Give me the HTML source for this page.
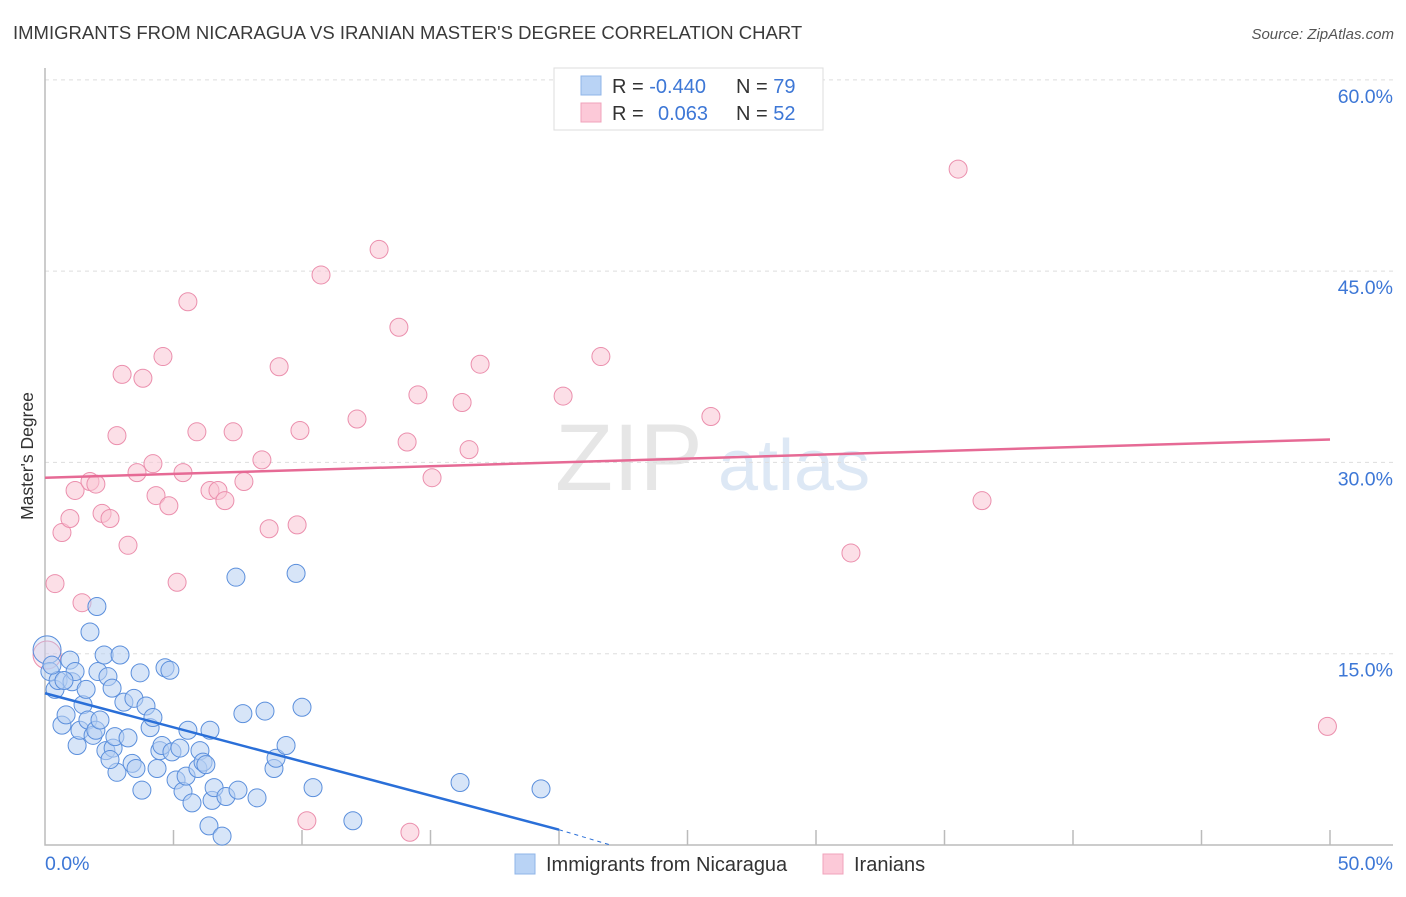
<!DOCTYPE html>
<html><head><meta charset="utf-8"><style>
body{margin:0;background:#fff;font-family:"Liberation Sans",sans-serif}
svg text{font-family:"Liberation Sans",sans-serif}
</style></head><body>
<svg id="chart" width="1406" height="892" xmlns="http://www.w3.org/2000/svg">
<text x="13" y="39" font-size="18.5" fill="#3a3a3a">IMMIGRANTS FROM NICARAGUA VS IRANIAN MASTER'S DEGREE CORRELATION CHART</text>
<text x="1394" y="39" font-size="15" fill="#555" text-anchor="end" font-style="italic">Source: ZipAtlas.com</text>
<text x="555" y="490" font-size="95" fill="#e6e6e6" font-family="Liberation Serif">ZIP</text>
<text x="718" y="490" font-size="72" fill="#dde8f5">atlas</text>
<text transform="translate(33,456) rotate(-90)" font-size="17.5" fill="#333" text-anchor="middle">Master's Degree</text>
<g id="grid"></g><g id="axes"></g><g id="pink"></g><g id="blue"></g><g id="lines"></g>
<g>
<rect x="554" y="68" width="269" height="62" fill="#fff" stroke="#ddd"/>
<rect x="581" y="76" width="20" height="19" fill="#b9d3f5" stroke="#8fb4e8"/>
<rect x="581" y="103" width="20" height="19" fill="#fcc9d8" stroke="#f0a3bb"/>
<text x="612" y="93" font-size="20" fill="#333">R = <tspan fill="#3d77d6">-0.440</tspan><tspan x="736">N = </tspan><tspan fill="#3d77d6">79</tspan></text>
<text x="612" y="120" font-size="20" fill="#333">R = <tspan x="658" fill="#3d77d6">0.063</tspan><tspan x="736">N = </tspan><tspan fill="#3d77d6">52</tspan></text>
</g>
<g>
<rect x="515" y="854" width="20" height="20" fill="#b9d3f5" stroke="#8fb4e8"/>
<text x="546" y="871" font-size="20" fill="#333">Immigrants from Nicaragua</text>
<rect x="823" y="854" width="20" height="20" fill="#fcc9d8" stroke="#f0a3bb"/>
<text x="854" y="871" font-size="20" fill="#333">Iranians</text>
</g>
</svg>
<script>
const blueX=[0.08,0.19,0.39,0.51,0.66,0.82,0.97,1.05,1.17,1.25,1.36,1.48,1.60,1.67,1.75,1.87,1.98,2.02,2.06,2.14,2.30,2.37,2.45,2.61,2.65,2.72,2.80,2.92,3.07,3.23,3.39,3.46,3.54,3.70,3.77,3.93,4.09,4.20,4.36,4.47,4.55,4.67,4.86,4.94,5.10,5.25,5.37,5.49,5.56,5.72,5.95,6.03,6.15,6.26,6.38,6.42,6.50,6.58,6.89,7.04,7.43,7.51,7.70,8.25,8.56,8.91,8.99,9.38,9.77,10.00,10.43,11.98,16.15,19.30,0.27,0.74,2.53];
const blueY=[15.3,13.6,12.2,12.9,9.4,10.2,14.5,12.8,13.6,7.8,9.0,11.0,12.2,9.8,16.7,8.6,9.0,18.7,13.6,9.8,14.9,7.4,13.2,12.3,7.6,8.5,5.7,14.9,11.2,8.4,6.4,11.5,6.0,13.5,4.3,10.9,9.2,10.0,6.0,7.4,7.8,13.9,13.7,7.3,5.1,7.6,4.2,5.4,9.0,3.3,6.0,7.4,6.5,6.3,1.5,9.0,3.5,4.5,0.7,3.8,21.0,4.3,10.3,3.7,10.5,6.0,6.8,7.8,21.3,10.8,4.5,1.9,4.9,4.4,14.1,12.9,6.7];
const pinkX=[0.08,0.39,0.66,0.97,1.17,1.44,1.75,1.98,2.22,2.53,2.80,3.00,3.23,3.58,3.81,4.20,4.32,4.59,4.82,5.14,5.37,5.56,5.91,6.42,6.73,7.00,7.32,7.74,8.44,8.72,9.11,9.81,9.92,10.19,10.74,12.14,13.00,13.77,14.09,14.20,14.51,15.06,16.23,16.50,16.93,20.16,21.63,25.91,31.36,35.53,36.46,49.9];
const pinkY=[14.9,20.5,24.5,25.6,27.8,19.0,28.5,28.3,26.0,25.6,32.1,36.9,23.5,29.2,36.6,29.9,27.4,38.3,26.6,20.6,29.2,42.6,32.4,27.8,27.8,27.0,32.4,28.5,30.2,24.8,37.5,25.1,32.5,1.9,44.7,33.4,46.7,40.6,31.6,1.0,35.3,28.8,34.7,31.0,37.7,35.2,38.3,33.6,22.9,53.0,27.0,9.3];
const blueTrendX=[0,20.0],blueTrendY=[11.9,1.2];
const blueDashX=[20.0,22.0],blueDashY=[1.2,0];
const pinkTrendX=[0,50],pinkTrendY=[28.8,31.8];
const yTicks=[15,30,45,60];
const yTickLabels=["15.0%","30.0%","45.0%","60.0%"];
const xTicks=[5,10,15,20,25,30,35,40,45,50];
const NS="http://www.w3.org/2000/svg";
const sx=v=>45+v*25.7, sy=v=>845-v*12.753;
function mk(t,p,a){const e=document.createElementNS(NS,t);for(const k in a)e.setAttribute(k,a[k]);p.appendChild(e);return e;}
const grid=document.getElementById('grid'),axes=document.getElementById('axes');
yTicks.forEach((t,i)=>{
 const l=mk('line',grid,{x1:45,x2:1393,y1:sy(t),y2:sy(t),stroke:'#ddd','stroke-dasharray':'4,4'});
 
 
 const tx=mk('text',grid,{x:1393,y:sy(t)+23,'font-size':19.5,fill:'#3d77d6','text-anchor':'end'});
 tx.textContent=yTickLabels[i];
 
 
});
const ax=mk('path',axes,{d:'M45,68V845H1393',fill:'none',stroke:'#bbb','stroke-width':1.5});


xTicks.forEach(t=>{
 const l=mk('line',axes,{x1:sx(t),x2:sx(t),y1:845,y2:830,stroke:'#bbb','stroke-width':1.5});
 
 
});
const x0=mk('text',axes,{x:45,y:870,'font-size':19.5,fill:'#3d77d6'});x0.textContent='0.0%';


const x1=mk('text',axes,{x:1393,y:870,'font-size':19.5,fill:'#3d77d6','text-anchor':'end'});x1.textContent='50.0%';


function dots(g,X,Y,fill,stroke,name){X.forEach((x,i)=>{
 const r=i===0?14:9;
 const c=mk('circle',g,{cx:sx(x),cy:sy(Y[i]),r:r,fill:fill,stroke:stroke,'stroke-width':1,'fill-opacity':i===0?0.35:0.55});
 
 
});}
dots(document.getElementById('pink'),pinkX,pinkY,'#f9c4d4','#eb8fad','iranian-point');
dots(document.getElementById('blue'),blueX,blueY,'#b6d0f3','#5b8fdc','nicaragua-point');
const lg=document.getElementById('lines');
const bt=mk('line',lg,{x1:sx(blueTrendX[0]),y1:sy(blueTrendY[0]),x2:sx(blueTrendX[1]),y2:sy(blueTrendY[1]),stroke:'#2a6fd8','stroke-width':2.5});


const bd=mk('line',lg,{x1:sx(blueDashX[0]),y1:sy(blueDashY[0]),x2:sx(blueDashX[1]),y2:sy(blueDashY[1]),stroke:'#2a6fd8','stroke-width':1,'stroke-dasharray':'4,4'});


const pt=mk('line',lg,{x1:sx(pinkTrendX[0]),y1:sy(pinkTrendY[0]),x2:sx(pinkTrendX[1]),y2:sy(pinkTrendY[1]),stroke:'#e66a95','stroke-width':2.5});


</script>
</body></html>
